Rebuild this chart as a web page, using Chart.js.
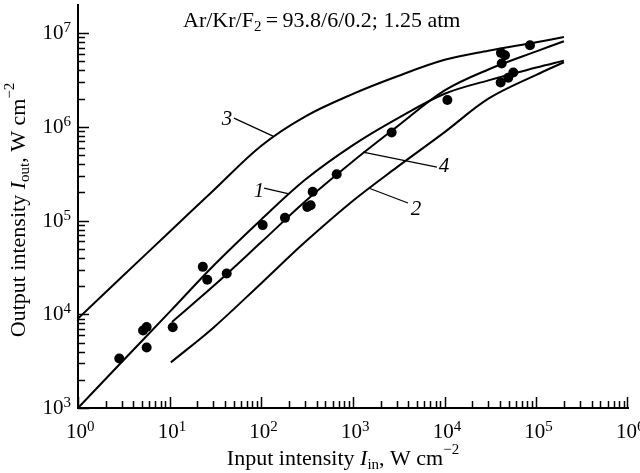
<!DOCTYPE html>
<html>
<head>
<meta charset="utf-8">
<script src="https://cdn.jsdelivr.net/npm/chart.js@4.4.0/dist/chart.umd.min.js"></script>
<style>
    html, body { margin: 0; padding: 0; background: #fff; }
    #wrap { width: 640px; height: 473px; }
</style>
</head>
<body>
<div id="wrap"><canvas id="chart" width="640" height="473"></canvas></div>
<script>
// curve 1
var x1 = [1, 3, 10, 30, 100, 300, 1000, 3000, 1e4, 3e4, 1e5, 2e5];
var y1 = [1e3, 3.1e3, 1.06e4, 3.3e4, 1.03e5, 2.73e5, 6.4e5, 1.22e6, 2.26e6, 3.14e6, 4.3e6, 5.1e6];
// curve 2
var x2 = [10.3, 30, 100, 300, 1000, 3000, 1e4, 3e4, 1e5, 2e5];
var y2 = [3.07e3, 7.2e3, 2.15e4, 5.9e4, 1.63e5, 3.7e5, 8.8e5, 2.0e6, 3.6e6, 4.9e6];
// curve 3
var x3 = [1, 3, 10, 30, 100, 300, 1000, 3000, 1e4, 3e4, 1e5, 2e5];
var y3 = [9e3, 2.5e4, 7.6e4, 2.1e5, 6.3e5, 1.29e6, 2.25e6, 3.45e6, 5.2e6, 6.5e6, 8.0e6, 9.1e6];
// curve 4
var x4 = [10.6, 30, 100, 300, 1000, 3000, 1e4, 3e4, 1e5, 2e5];
var y4 = [8.3e3, 2.0e4, 5.9e4, 1.6e5, 4.3e5, 1.0e6, 2.45e6, 4.1e6, 6.4e6, 8.2e6];
// measured points
var xPts = [2.82, 5.12, 5.61, 5.61, 10.8, 23.0, 25.7, 41.9, 103.5, 181, 317, 345, 363, 664, 2640, 1.07e4, 4.11e4, 4.55e4, 4.19e4, 8.53e4, 5.61e4, 4.94e4, 4.08e4];
var yPts = [3.37e3, 6.71e3, 7.31e3, 4.42e3, 7.26e3, 3.21e4, 2.34e4, 2.73e4, 8.95e4, 1.07e5, 1.40e5, 1.46e5, 2.03e5, 3.13e5, 8.73e5, 1.94e6, 6.17e6, 5.82e6, 4.75e6, 7.45e6, 3.81e6, 3.34e6, 2.98e6];
// axis decades (tick labels are 10^n)
var xDecades = [0, 1, 2, 3, 4, 5, 6];
var yDecades = [3, 4, 5, 6, 7];
// curve labels: text, label anchor, leader start, leader end (data units)
var curveLabels = [
    { t: '3', at: [42.2, 1.24e6], from: [50.3, 1.24e6], to: [134, 7.97e5] },
    { t: '1', at: [94.3, 2.11e5], from: [107, 2.22e5], to: [195, 1.94e5] },
    { t: '4', at: [9.84e3, 3.9e5], from: [8.24e3, 3.72e5], to: [1285, 5.38e5] },
    { t: '2', at: [4.86e3, 1.36e5], from: [3.98e3, 1.54e5], to: [1530, 2.2e5] }
];

var SERIF = '"Liberation Serif", "DejaVu Serif", serif';

function pairs(xs, ys) {
    return xs.map(function (v, i) { return { x: v, y: ys[i] }; });
}

function curve(xs, ys) {
    return {
        data: pairs(xs, ys),
        showLine: true,
        borderColor: '#000',
        borderWidth: 2,
        pointRadius: 0,
        tension: 0.35,
        fill: false
    };
}

// draws a list of [text, size, italic, dy] pieces
function rich(ctx, parts, x, y, align) {
    var w = 0;
    parts.forEach(function (p) {
        ctx.font = (p[2] ? 'italic ' : '') + p[1] + 'px ' + SERIF;
        w += ctx.measureText(p[0]).width;
    });
    var cx = align === 'center' ? x - w / 2 : (align === 'right' ? x - w : x);
    parts.forEach(function (p) {
        ctx.font = (p[2] ? 'italic ' : '') + p[1] + 'px ' + SERIF;
        ctx.fillText(p[0], cx, y + (p[3] || 0));
        cx += ctx.measureText(p[0]).width;
    });
}

var decor = {
    id: 'decor',
    afterDraw: function (chart) {
        var ctx = chart.ctx;
        var xs = chart.scales.x, ys = chart.scales.y;
        var area = chart.chartArea;
        ctx.save();
        ctx.fillStyle = '#000';
        ctx.strokeStyle = '#000';
        ctx.textBaseline = 'alphabetic';

        // inward tick marks
        ctx.lineWidth = 1.5;
        ctx.beginPath();
        var e, m, v, p, len;
        for (e = 0; e < 6; e++) {
            for (m = 1; m <= 9; m++) {
                v = m * Math.pow(10, e);
                p = Math.round(xs.getPixelForValue(v)) + 0.5;
                len = m === 1 ? 11 : 7;
                ctx.moveTo(p, area.bottom);
                ctx.lineTo(p, area.bottom - len);
            }
        }
        p = Math.round(xs.getPixelForValue(1e6)) - 0.5;
        ctx.moveTo(p, area.bottom);
        ctx.lineTo(p, area.bottom - 11);
        for (e = 3; e < 7; e++) {
            for (m = 1; m <= 9; m++) {
                v = m * Math.pow(10, e);
                p = Math.round(ys.getPixelForValue(v)) + 0.5;
                len = m === 1 ? 11 : 7;
                ctx.moveTo(area.left, p);
                ctx.lineTo(area.left + len, p);
            }
        }
        p = Math.round(ys.getPixelForValue(1e7)) + 0.5;
        ctx.moveTo(area.left, p);
        ctx.lineTo(area.left + 11, p);
        ctx.stroke();

        // tick labels 10^n
        xDecades.forEach(function (d) {
            var px = xs.getPixelForValue(Math.pow(10, d));
            rich(ctx, [['10', 21, false, 0], [String(d), 15, false, -7]], px - 12, area.bottom + 30, 'left');
        });
        yDecades.forEach(function (d) {
            var py = ys.getPixelForValue(Math.pow(10, d));
            rich(ctx, [['10', 21, false, 0], [String(d), 15, false, -7]], area.left - 7, py + 6, 'right');
        });

        // axis titles
        rich(ctx, [['Input intensity ', 22], ['I', 22, true], ['in', 15, false, 4], [', W cm', 22], ['\u22122', 15, false, -11]],
            343, 465, 'center');
        ctx.save();
        ctx.translate(25, 210);
        ctx.rotate(-Math.PI / 2);
        rich(ctx, [['Output intensity ', 22], ['I', 22, true], ['out', 15, false, 4], [', W cm', 22], ['\u22122', 15, false, -11]],
            0, 0, 'center');
        ctx.restore();

        // gas mixture note
        rich(ctx, [['Ar/Kr/F', 22], ['2', 15, false, 4], ['\u2009=\u200993.8/6/0.2; 1.25 atm', 22]], 183, 27, 'left');

        // curve labels with leaders
        ctx.lineWidth = 1.2;
        curveLabels.forEach(function (c) {
            ctx.beginPath();
            ctx.moveTo(xs.getPixelForValue(c.from[0]), ys.getPixelForValue(c.from[1]));
            ctx.lineTo(xs.getPixelForValue(c.to[0]), ys.getPixelForValue(c.to[1]));
            ctx.stroke();
            rich(ctx, [[c.t, 21, true]], xs.getPixelForValue(c.at[0]), ys.getPixelForValue(c.at[1]) + 7, 'center');
        });
        ctx.restore();
    }
};

var ctx = document.getElementById('chart').getContext('2d');
var chart = new Chart(ctx, {
    type: 'scatter',
    data: {
        datasets: [
            curve(x1, y1),
            curve(x2, y2),
            curve(x3, y3),
            curve(x4, y4),
            {
                data: pairs(xPts, yPts),
                showLine: false,
                pointRadius: 5,
                pointBackgroundColor: '#000',
                pointBorderColor: '#000',
                pointBorderWidth: 0
            }
        ]
    },
    options: {
        responsive: false,
        animation: false,
        layout: { padding: { top: 5, right: 12, left: 0, bottom: 0 } },
        plugins: {
            legend: { display: false },
            tooltip: { enabled: false }
        },
        scales: {
            x: {
                type: 'logarithmic',
                min: 1,
                max: 1e6,
                grid: { display: false },
                border: { display: true, color: '#000', width: 2 },
                ticks: { display: false },
                afterFit: function (scale) { scale.height = 65; }
            },
            y: {
                type: 'logarithmic',
                min: 1e3,
                max: 2e7,
                grid: { display: false },
                border: { display: true, color: '#000', width: 2 },
                ticks: { display: false },
                afterFit: function (scale) { scale.width = 78; }
            }
        }
    },
    plugins: [decor]
});
</script>
</body>
</html>
